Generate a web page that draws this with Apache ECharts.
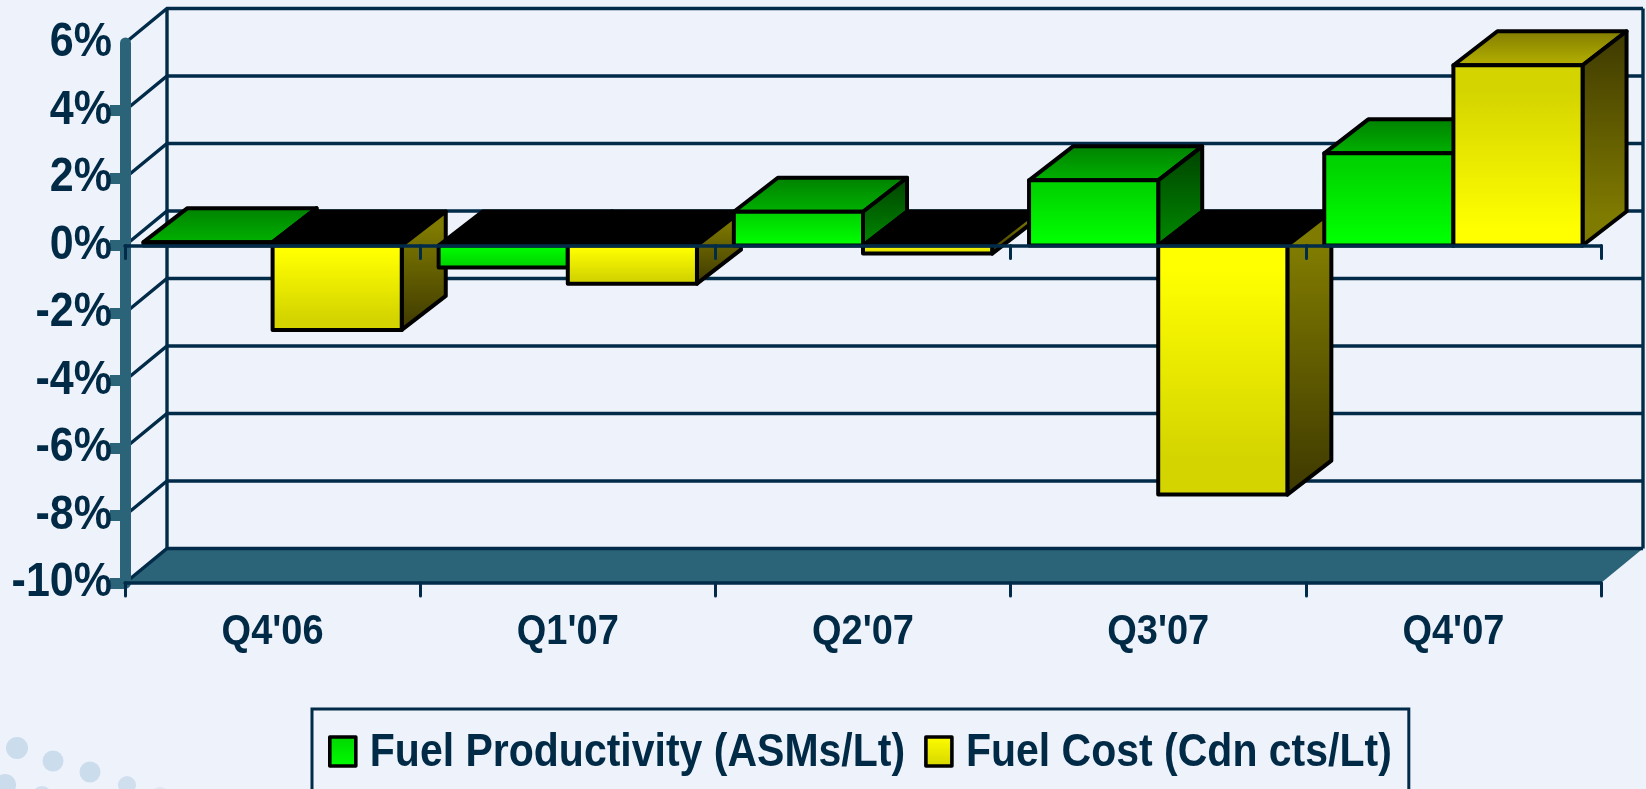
<!DOCTYPE html>
<html>
<head>
<meta charset="utf-8">
<style>html,body{margin:0;padding:0;background:#eef3fb;overflow:hidden}#c{width:1646px;height:789px}</style>
<script src="https://cdn.jsdelivr.net/npm/echarts@6/dist/echarts.min.js"></script>
</head>
<body>
<div id="c"></div>
<script>
const categories = ["Q4'06", "Q1'07", "Q2'07", "Q3'07", "Q4'07"];
const fuelProductivity = [0.1, -0.65, 1.0, 1.93, 2.73];
const fuelCost = [-2.5, -1.13, -0.24, -7.38, 5.34];
const yTicks = [-10, -8, -6, -4, -2, 0, 2, 4, 6];

const TEXT = '#002a45', LINE = '#012b48', TEAL = '#2b6478', FONT = '"Liberation Sans", Arial, sans-serif';
const G = echarts.graphic.LinearGradient;
const grad = (a, b, hold) => new G(0, 0, 0, 1, [
  {offset: 0, color: a}, {offset: hold ? hold[0] : 0, color: a},
  {offset: hold ? hold[1] : 1, color: b}, {offset: 1, color: b}
]);
const palette = {
  green: {bright: '#00ff00', dim: '#00d400', sideNear: '#008000', sideFar: '#004000', topBack: '#007f00', topFront: '#00b400'},
  yellow: {bright: '#ffff00', dim: '#d4d400', sideNear: '#7f7a00', sideFar: '#3d3800', topBack: '#7f7a00', topFront: '#b8b400'}
};
const BAR_DX = 44, BAR_DY = -34, WALL_DX = 42, WALL_DY = -34.5, GAP = 0.0625;

function barRenderer(seriesPos, pal) {
  return function (params, api) {
    const idx = api.value(0), val = api.value(1);
    const band = api.size([1, 0])[0];
    const cx = api.coord([idx, 0])[0];
    const y0 = api.coord([idx, 0])[1];
    const y1 = api.coord([idx, val])[1];
    const barW = band * (0.5 - GAP);
    const xl = cx - barW + seriesPos * barW, xr = xl + barW;
    const top = Math.min(y0, y1), bot = Math.max(y0, y1);
    const pos = val >= 0;
    const base = idx * 10 + seriesPos * 5;
    const stroke = {stroke: '#000', lineWidth: 4, lineJoin: 'round'};
    const poly = (points, fill, k) => ({
      type: 'polygon', z2: base + k, shape: {points: points},
      style: Object.assign({fill: fill}, stroke)
    });
    return {type: 'group', children: [
      poly([[xl, top], [xl + BAR_DX, top + BAR_DY], [xr + BAR_DX, top + BAR_DY], [xr, top]],
        pos ? grad(pal.topBack, pal.topFront) : '#000', 0),
      poly([[xr, top], [xr + BAR_DX, top + BAR_DY], [xr + BAR_DX, bot + BAR_DY], [xr, bot]],
        pos ? grad(pal.sideFar, pal.sideNear, [0, 0.85]) : grad(pal.sideNear, pal.sideFar, [0.15, 1]), 1),
      poly([[xl, top], [xr, top], [xr, bot], [xl, bot]],
        pos ? grad(pal.dim, pal.bright, [0.15, 0.9]) : grad(pal.bright, pal.dim, [0.1, 0.85]), 2)
    ]};
  };
}

function wallRenderer(params, api) {
  const v = api.value(0);
  const band = api.size([1, 0])[0];
  const c0 = api.coord([0, v]);
  const c1 = api.coord([categories.length - 1, v]);
  const xl = c0[0] - band / 2, xr = c1[0] + band / 2, y = c0[1];
  const ln = {stroke: LINE, lineWidth: 3.4, fill: 'none'};
  const children = [{
    type: 'polyline',
    shape: {points: [[xl, y], [xl + WALL_DX, y + WALL_DY], [xr + WALL_DX, y + WALL_DY]]},
    style: ln
  }];
  if (v === yTicks[0]) {
    children.unshift({
      type: 'polygon',
      shape: {points: [[xl, y], [xl + WALL_DX, y + WALL_DY], [xr + WALL_DX, y + WALL_DY], [xr, y]]},
      style: {fill: TEAL}
    });
    const yTop = api.coord([0, yTicks[yTicks.length - 1]])[1] + WALL_DY;
    children.push({type: 'line', shape: {x1: xl + WALL_DX, y1: y + WALL_DY, x2: xl + WALL_DX, y2: yTop}, style: ln});
    children.push({type: 'line', shape: {x1: xr + WALL_DX, y1: y + WALL_DY, x2: xr + WALL_DX, y2: yTop}, style: ln});
  }
  return {type: 'group', children: children};
}

const chart = echarts.init(document.getElementById('c'), null, {renderer: 'canvas'});
const dot = (cx, cy, r, fill) => ({type: 'circle', silent: true, z: 0, shape: {cx, cy, r}, style: {fill}});

chart.setOption({
  animation: false,
  backgroundColor: '#eef3fb',
  graphic: [
    dot(17, 748, 11, '#cbdcec'), dot(53, 761, 10.5, '#cbdcec'), dot(90, 772, 10.5, '#cbdcec'),
    dot(127, 785, 9, '#d0dfee'), dot(5, 785, 11, '#cbdcec'), dot(42, 796, 10, '#d0dfee'), dot(160, 796, 9, '#dde7f3')
  ],
  grid: {left: 125, right: 45, top: 43, bottom: 206, containLabel: false},
  legend: {
    left: 312, top: 709, orient: 'horizontal', padding: [22, 17, 43, 16], itemGap: 19,
    itemWidth: 26, itemHeight: 29, borderColor: LINE, borderWidth: 3, selectedMode: false,
    textStyle: {color: TEXT, fontFamily: FONT, fontWeight: 'bold', fontSize: 41, padding: [0, 0, 0, 9]},
    data: [
      {name: 'Fuel Productivity (ASMs/Lt)', icon: 'rect',
        itemStyle: {color: grad(palette.green.dim, palette.green.bright), borderColor: '#000', borderWidth: 3.6, borderJoin: 'round'}},
      {name: 'Fuel Cost (Cdn cts/Lt)', icon: 'rect',
        itemStyle: {color: grad(palette.yellow.bright, palette.yellow.dim), borderColor: '#000', borderWidth: 3.6, borderJoin: 'round'}}
    ]
  },
  xAxis: [
    {type: 'category', data: categories, position: 'bottom', z: 10,
      axisLine: {onZero: false, lineStyle: {color: LINE, width: 3.5}},
      axisTick: {show: true, length: 13, lineStyle: {color: LINE, width: 3, cap: 'round'}},
      axisLabel: {color: TEXT, fontFamily: FONT, fontWeight: 'bold', fontSize: 38, margin: 28, interval: 0},
      splitLine: {show: false}},
    {type: 'category', data: categories, position: 'bottom', z: 10,
      axisLine: {onZero: true, lineStyle: {color: LINE, width: 3.5}},
      axisTick: {show: true, length: 13, lineStyle: {color: LINE, width: 3, cap: 'round'}},
      axisLabel: {show: false}, splitLine: {show: false}}
  ],
  yAxis: {
    type: 'value', min: -10, max: 6, interval: 2, z: 5,
    axisLine: {show: true, onZero: false, lineStyle: {color: TEAL, width: 11, cap: 'round'}},
    axisTick: {show: true, length: 15, customValues: yTicks.slice(0, -1), lineStyle: {color: TEAL, width: 11}},
    axisLabel: {color: TEXT, fontFamily: FONT, fontWeight: 'bold', fontSize: 43, margin: 13,
      padding: [0, 0, 10, 0], formatter: v => v + '%'},
    splitLine: {show: false}
  },
  series: [
    {type: 'custom', name: 'walls', z: 1, silent: true, clip: false, renderItem: wallRenderer,
      data: yTicks.map(v => [v]), encode: {y: 0}},
    {type: 'custom', name: 'Fuel Productivity (ASMs/Lt)', z: 2, clip: false,
      renderItem: barRenderer(0, palette.green),
      data: fuelProductivity.map((v, i) => [i, v]), encode: {x: 0, y: 1}},
    {type: 'custom', name: 'Fuel Cost (Cdn cts/Lt)', z: 2, clip: false,
      renderItem: barRenderer(1, palette.yellow),
      data: fuelCost.map((v, i) => [i, v]), encode: {x: 0, y: 1}}
  ]
});

// The reference's lettering is stretched vertically; apply the same stretch to the real text elements.
const TEXT_STRETCH = 1.13;
function stretchText() {
  chart.getZr().storage.traverse(function (el) {
    if (el.type === 'text') {
      el.scaleY = TEXT_STRETCH;
      el.originY = 0;
      el.markRedraw();
    }
  });
  chart.getZr().refreshImmediately();
}
stretchText();
</script>
</body>
</html>
